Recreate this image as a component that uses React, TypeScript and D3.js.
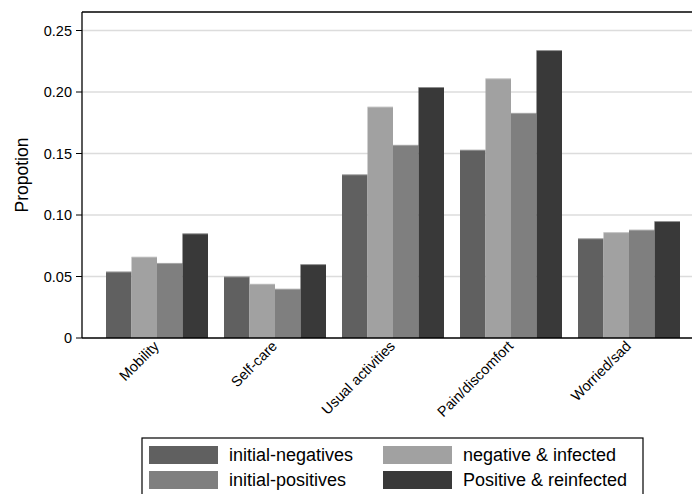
import React from "react";
import * as d3 from "d3";

const categories = ["Mobility", "Self-care", "Usual activities", "Pain/discomfort", "Worried/sad"];
const seriesNames = ["initial-negatives", "negative & infected", "initial-positives", "Positive & reinfected"];
const seriesColors = ["#606060", "#a1a1a1", "#7f7f7f", "#393939"];
const initialNegatives = [0.054, 0.050, 0.133, 0.153, 0.081];
const negativeInfected = [0.066, 0.044, 0.188, 0.211, 0.086];
const initialPositives = [0.061, 0.040, 0.157, 0.183, 0.088];
const positiveReinfected = [0.085, 0.060, 0.204, 0.234, 0.095];
const yTicks = [0, 0.05, 0.1, 0.15, 0.2, 0.25];
const yTickLabels = ["0", "0.05", "0.10", "0.15", "0.20", "0.25"];

const series = [initialNegatives, negativeInfected, initialPositives, positiveReinfected];

export default function App() {
  const W = 692, H = 494;
  const left = 82, right = 692, top = 12, bottom = 338;
  const font = "Liberation Sans, Arial, sans-serif";
  const y = d3.scaleLinear().domain([0, 0.25]).range([bottom, 30.5]);
  const x0 = d3.scaleBand<string>().domain(categories).range([106, 680]).paddingInner(0.1356).paddingOuter(0);
  const x1 = d3.scaleBand<number>().domain([0, 1, 2, 3]).range([0, x0.bandwidth()]);

  const legItems = [
    { i: 0, col: 0, row: 0 },
    { i: 1, col: 1, row: 0 },
    { i: 2, col: 0, row: 1 },
    { i: 3, col: 1, row: 1 },
  ];
  const colX = [149, 383];
  const rowY = [446, 471];

  return (
    <svg width={W} height={H} style={{ position: "absolute", left: 0, top: 0, background: "#fff" }} fontFamily={font}>
      <rect x={0} y={0} width={W} height={H} fill="#fff" />
      {yTicks.slice(1).map((t) => (
        <line key={t} x1={left} x2={right} y1={y(t)} y2={y(t)} stroke="#dcdcdc" strokeWidth={1.5} />
      ))}
      {categories.map((c, ci) => (
        <g key={c} transform={`translate(${x0(c)},0)`}>
          {series.map((s, si) => (
            <g key={si}>
              <rect
                x={x1(si)}
                y={y(s[ci])}
                width={x1.bandwidth()}
                height={bottom - y(s[ci])}
                fill={seriesColors[si]}
              />
              <line
                x1={x1(si)}
                x2={(x1(si) as number) + x1.bandwidth()}
                y1={y(s[ci]) + 0.4}
                y2={y(s[ci]) + 0.4}
                stroke="#e0e0e0"
                strokeOpacity={0.6}
                strokeWidth={0.8}
              />
            </g>
          ))}
        </g>
      ))}
      <line x1={left} x2={right} y1={top} y2={top} stroke="#000" strokeWidth={1.3} />
      <line x1={left} x2={left} y1={top} y2={bottom} stroke="#000" strokeWidth={1.3} />
      <line x1={left} x2={right} y1={bottom} y2={bottom} stroke="#000" strokeWidth={1.3} />
      {yTicks.map((t, i) => (
        <g key={t}>
          <line x1={left - 6} x2={left} y1={y(t)} y2={y(t)} stroke="#000" strokeWidth={1} />
          <text x={72} y={y(t)} dy="0.35em" textAnchor="end" fontSize={14.5} fill="#000">
            {yTickLabels[i]}
          </text>
        </g>
      ))}
      <text transform={`translate(28,175) rotate(-90)`} textAnchor="middle" fontSize={17.5} fill="#000">
        Propotion
      </text>
      {categories.map((c) => {
        const cx = (x0(c) as number) + x0.bandwidth() / 2 + 3;
        return (
          <text key={c} transform={`translate(${cx},${bottom + 9}) rotate(-45)`} textAnchor="end" fontSize={14.5} fill="#000">
            {c}
          </text>
        );
      })}
      <rect x={142} y={438} width={501} height={60} fill="#fff" stroke="#000" strokeWidth={1.2} />
      {legItems.map(({ i, col, row }) => (
        <g key={i}>
          <rect x={colX[col]} y={rowY[row]} width={69} height={18} fill={seriesColors[i]} />
          <text x={colX[col] + 80} y={rowY[row] + 9} dy="0.35em" fontSize={18} fill="#000">
            {seriesNames[i]}
          </text>
        </g>
      ))}
    </svg>
  );
}
